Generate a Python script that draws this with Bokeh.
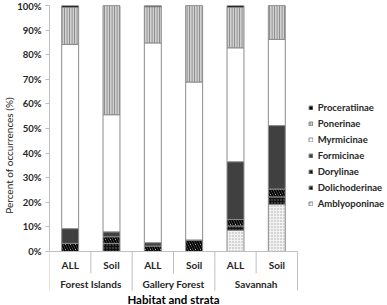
from bokeh.plotting import figure
from bokeh.models import (Range1d, FixedTicker, PrintfTickFormatter,
                          ColumnDataSource, Legend, LegendItem, Title)
from bokeh.core.properties import value
from bokeh.transform import stack
from bokeh.embed import file_html
from bokeh.resources import INLINE

habitats = ["Forest Islands", "Gallery Forest", "Savannah"]
strata = ["ALL", "Soil"]
subfamilies = ["Amblyoponinae", "Dolichoderinae", "Dorylinae", "Formicinae",
               "Myrmicinae", "Ponerinae", "Proceratiinae"]

amblyoponinae = [0.0, 0.0, 0.0, 0.0, 8.6, 19.1]
dolichoderinae = [0.0, 3.3, 0.0, 0.0, 1.8, 3.1]
dorylinae = [3.3, 2.7, 2.2, 4.7, 2.6, 3.2]
formicinae = [6.0, 2.0, 1.4, 0.0, 23.5, 25.8]
myrmicinae = [74.9, 47.6, 81.2, 64.2, 46.3, 35.0]
ponerinae = [15.1, 44.4, 14.7, 31.1, 16.5, 13.8]
proceratiinae = [0.7, 0.0, 0.5, 0.0, 0.7, 0.0]

y_ticks = [0, 10, 20, 30, 40, 50, 60, 70, 80, 90, 100]

labels = [s for h in habitats for s in strata]
n = len(labels)
xs = [i + 0.5 for i in range(n)]
group_x = [len(strata) * (g + 0.5) for g in range(len(habitats))]

FONT = value("Lato")
GRAY = "#bfbfbf"
TXT = "#262626"

p = figure(width=387, height=305, output_backend="svg", toolbar_location=None,
           x_range=Range1d(0, 338 / 41.33),
           y_range=Range1d(-21.95, 100),
           x_axis_location=None, min_border_left=49, min_border_right=0,
           min_border_top=5, min_border_bottom=0)
p.outline_line_color = None
p.xgrid.visible = False
p.ygrid.visible = False
p.background_fill_color = "white"

ax = p.yaxis[0]
ax.bounds = (0, 100)
ax.ticker = FixedTicker(ticks=y_ticks)
ax.formatter = PrintfTickFormatter(format="%d%%")
ax.axis_line_color = GRAY
ax.major_tick_line_color = GRAY
ax.major_tick_out = 4
ax.major_tick_in = 0
ax.minor_tick_line_color = None
ax.major_label_text_font = "Lato"
ax.major_label_text_font_style = "bold"
ax.major_label_text_font_size = "9.5px"
ax.major_label_text_color = TXT
ax.major_label_standoff = 4

ytitle = Title(text="Percent of occurrences (%)", align="center", offset=22,
               standoff=0, text_font="Lato", text_font_style="normal",
               text_font_size="10px", text_color=TXT)
p.add_layout(ytitle, "left")

src = ColumnDataSource(data=dict(
    x=xs,
    Amblyoponinae=amblyoponinae, Dolichoderinae=dolichoderinae, Dorylinae=dorylinae,
    Formicinae=formicinae, Myrmicinae=myrmicinae, Ponerinae=ponerinae,
    Proceratiinae=proceratiinae))

fills = ["#f2f2f2", "#111111", "white", "#404040", "white", "#d0d0d0", "black"]
hatches = [".", ".", "\\", " ", " ", "|", " "]
hcolors = ["#a6a6a6", "#777777", "black", "#404040", "white", "#7f7f7f", "black"]
hscales = [3, 3, 5, 6, 6, 2.5, 6]
hweights = [1, 1, 2, 1, 1, 1, 1]

renderers = []
for i, name in enumerate(subfamilies):
    r = p.vbar(x="x", bottom=stack(*subfamilies[:i]), top=stack(*subfamilies[:i + 1]),
               width=0.41, source=src,
               fill_color=fills[i], line_color="#8c8c8c", line_width=1,
               hatch_pattern=hatches[i], hatch_color=hcolors[i],
               hatch_scale=hscales[i], hatch_weight=hweights[i])
    renderers.append(r)

# category axis drawn below the bars
inner = [len(strata) * g + 1 for g in range(len(habitats))]
outer = [len(strata) * g for g in range(len(habitats) + 1)]
p.segment(x0=[0], y0=[0], x1=[n], y1=[0], line_color=GRAY, line_width=1)
p.segment(x0=inner, y0=[0] * len(inner), x1=inner, y1=[-8.9] * len(inner),
          line_color=GRAY, line_width=1)
p.segment(x0=outer, y0=[0] * len(outer), x1=outer, y1=[-15.9] * len(outer),
          line_color=GRAY, line_width=1)

p.text(x=xs, y=[-5.3] * n, text=labels,
       text_font=FONT, text_font_style="bold", text_font_size="10px",
       text_color=TXT, text_align="center", text_baseline="middle")
p.text(x=group_x, y=[-13.4] * len(habitats), text=habitats,
       text_font=FONT, text_font_style="bold", text_font_size="10px",
       text_color=TXT, text_align="center", text_baseline="middle")
p.text(x=[n / 2], y=[-19.5], text=["Habitat and strata"],
       text_font=FONT, text_font_style="bold", text_font_size="11.5px",
       text_color="black", text_align="center", text_baseline="middle")

items = [LegendItem(label=name, renderers=[r])
         for name, r in reversed(list(zip(subfamilies, renderers)))]
legend = Legend(items=items, location=(258.7, 96), padding=0, margin=0,
                border_line_color=None, background_fill_alpha=0,
                glyph_width=5, glyph_height=5, label_standoff=5,
                label_height=12, spacing=4,
                label_text_font="Lato", label_text_font_style="bold",
                label_text_font_size="9.5px", label_text_color=TXT)
p.add_layout(legend)

open("out.html", "w").write(file_html(p, INLINE))
